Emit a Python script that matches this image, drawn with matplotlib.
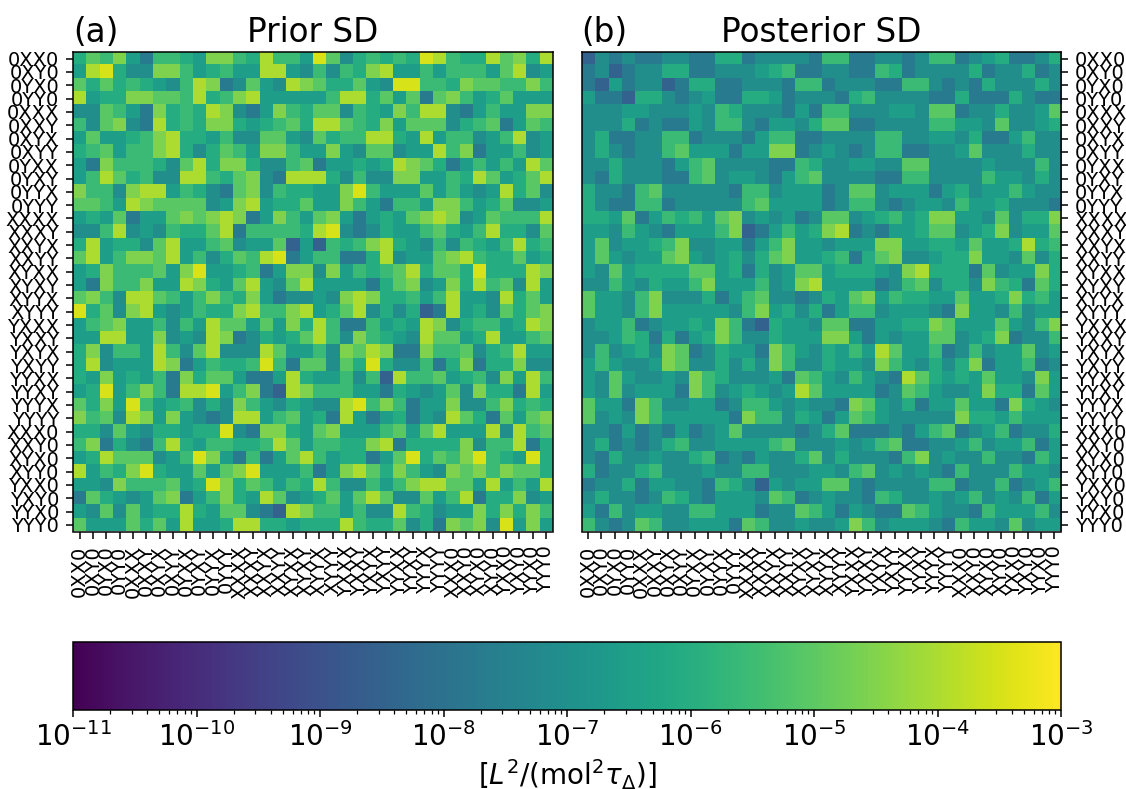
import numpy as np
import matplotlib
matplotlib.use('Agg')
import matplotlib.pyplot as plt
from matplotlib.colors import LogNorm
from matplotlib.cm import ScalarMappable

W, H = 1126, 789

labels = ['0XX0', '0XY0', '0YX0', '0YY0', '0XXX', '0XXY', '0XYX', '0XYY', '0YXX',
          '0YXY', '0YYX', '0YYY', 'XXXX', 'XXXY', 'XXYX', 'XXYY', 'XYXX', 'XYXY',
          'XYYX', 'XYYY', 'YXXX', 'YXXY', 'YXYX', 'YXYY', 'YYXX', 'YYXY', 'YYYX',
          'YYYY', 'XXX0', 'XXY0', 'XYX0', 'XYY0', 'YXX0', 'YXY0', 'YYX0', 'YYY0']

# log10 of the SD for each digit used in the rows below
levels = [-8.5, -7.7, -7.05, -6.55, -6.05, -5.55, -5.05, -4.55, -4.0, -3.5]

prior_rows = [
    '465731554377548553962454549854486748',
    '389422775345338832525478335355536823',
    '646454325871263287644632995547665575',
    '834477665845783333358846361675346333',
    '226531745487213754662543758821353377',
    '526721845477434564886547366624561365',
    '363345784435226632645588438355235823',
    '456355784246537753373266233857133523',
    '317555426847742256133434876413535386',
    '358645228854672188842522773354863468',
    '755278835421672544337953336353238462',
    '665387666623783446337531553775346223',
    '343613367678713753673134367872365558',
    '225823254468155554892124335643584426',
    '483442683356233603054578432525435845',
    '683577683524658913551148233678544634',
    '347555637933451377273545684664944487',
    '317557338743683268333314672374856283',
    '675288653575473122327874453583328463',
    '946278323544785578346824240183426467',
    '356733525386636374851153438724553487',
    '338833723287124346852754328663483356',
    '472553852682228633527687117556245833',
    '482333871354459516626494225147144722',
    '437343517466311384335250855634527385',
    '349357518893571087555331432362744183',
    '647395345242753243228957513372257454',
    '756287373212883563418313413286416367',
    '442632443449217743673335636833382856',
    '571421584355445863554478144447255814',
    '348666235973151368534413694657954394',
    '835479433636793335137864753276757664',
    '332755563497465354852253578866383538',
    '164323671357438623463686226358144723',
    '326263448436621087553522854233747475',
    '633364638334884434448544624176729373',
]

posterior_rows = [
    '021211221144122221551122125512341124',
    '120122441122234511221154122224122412',
    '103122014411222155122211552121422242',
    '311044212311443122214522221141114211',
    '222332223254222131552223326612242236',
    '222412113255213324661122225533262234',
    '241122551222135511222255223324113522',
    '242122563331337712321255112236222422',
    '224222135622221154223322662222322252',
    '214222115623321356222211552222533242',
    '422156222221552333126623331342335322',
    '421155122222563333125521233253342221',
    '443613545367232312662345347733262447',
    '332532133357013534781213346623472336',
    '362334572233135733233377334436334845',
    '363233673234246733451467223447332624',
    '326344446634142366344432784441623374',
    '225324335733352378333312562442754164',
    '633257222413562212436735443363347453',
    '633257333332573424135523332173325233',
    '233512334375104332661133447633363257',
    '223541413475224333773132336623471225',
    '252342761243317532435386335125233623',
    '353223762242427522433275324247133512',
    '326322327542223165325321864343633273',
    '326233317523432386333312653223744163',
    '633175223312553232217632413363317432',
    '623275333331755243136532222274435333',
    '221312131236222212461112135612351224',
    '241212452233335622232356112235233513',
    '214223224512132246242221572322522153',
    '412245222322552223325623232152225332',
    '122413322154203233662122225512251235',
    '242212542133326512322154223235232513',
    '315233225533312265313211653221533352',
    '521265223331652232237523332153326233',
]

titles = ['Prior SD', 'Posterior SD']
panels = ['(a)', '(b)']


def decode(rows):
    return np.array([[10.0 ** levels[int(c)] for c in r] for r in rows])


def box(x0, y0, x1, y1):
    # pixel box from the top left corner -> figure fractions
    return [x0 / W, 1 - y1 / H, (x1 - x0) / W, (y1 - y0) / H]


norm = LogNorm(vmin=1e-11, vmax=1e-3)
fig = plt.figure(figsize=(W / 100, H / 100), dpi=100)

ax_a = fig.add_axes(box(73, 52, 552.5, 531.5))
ax_b = fig.add_axes(box(581.5, 52, 1061, 531.5))

for ax, rows, title, panel in zip([ax_a, ax_b], [prior_rows, posterior_rows], titles, panels):
    ax.imshow(decode(rows), cmap='viridis', norm=norm, aspect='auto', interpolation='nearest')
    ax.set_xticks(range(len(labels)))
    ax.set_xticklabels(labels, rotation=90, fontsize=14)
    ax.set_yticks(range(len(labels)))
    ax.set_yticklabels(labels, fontsize=14)
    ax.tick_params(length=5, width=1.1, pad=5)
    ax.set_title(title, fontsize=23.5, pad=7)
    ax.set_title(panel, loc='left', fontsize=23.5, pad=7)
    for s in ax.spines.values():
        s.set_linewidth(1.1)

ax_b.yaxis.tick_right()

cax = fig.add_axes(box(73, 642, 1061, 710))
cb = fig.colorbar(ScalarMappable(norm=norm, cmap='viridis'), cax=cax, orientation='horizontal')
cb.ax.tick_params(which='major', labelsize=20, length=5, width=1.1)
cb.ax.tick_params(which='minor', length=3, width=0.9)
cb.outline.set_linewidth(1.1)
cb.set_label(r'[$L^2$/(mol$^2\tau_\Delta$)]', fontsize=20)

fig.savefig('out.png', dpi=100)
